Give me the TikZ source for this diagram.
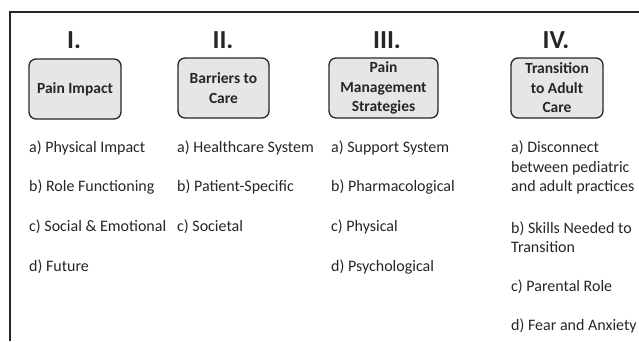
\documentclass[tikz,border=0pt]{standalone}
\usepackage{fontspec}
\setmainfont{Carlito}
\definecolor{ink}{HTML}{262626}
\definecolor{boxgray}{HTML}{E6E6E6}
\begin{document}
\begin{tikzpicture}[x=1pt,y=-1pt,text=ink]
\tikzset{
  stage/.style={draw=ink,line width=1.3pt,fill=boxgray,rounded corners=7pt,minimum height=60pt,inner sep=0pt,align=center,font=\fontsize{15.5}{19.5}\selectfont\bfseries},
  numeral/.style={font=\fontsize{26}{30}\selectfont\bfseries},
  item/.style={anchor=west,inner sep=0pt,align=left,font=\fontsize{16}{19.5}\selectfont}
}
\useasboundingbox (0,0) rectangle (639,341);
\draw[ink,line width=1.3pt] (10,341) -- (10,12) -- (639,12);
% headings
\node[numeral] (num1) at (74,40) {I.};
\node[numeral] (num2) at (223,40) {II.};
\node[numeral] (num3) at (387,40) {III.};
\node[numeral] (num4) at (556,40) {IV.};
\node[stage,minimum width=92pt] (impact) at (75,89) {Pain Impact};
\node[stage,minimum width=91pt] (barriers) at (223.5,88) {Barriers to\\Care};
\node[stage,minimum width=109pt] (strategies) at (383.5,88) {Pain\\Management\\Strategies};
\node[stage,minimum width=92pt] (transition) at (557,88) {Transition\\to Adult\\Care};
% I. pain impact
\node[item] (physimpact) at (29,148) {a) Physical Impact};
\node[item] (role) at (29,187) {b) Role Functioning};
\node[item] (social) at (29,227) {c) Social \& Emotional};
\node[item] (future) at (29,267) {d) Future};
% II. barriers
\node[item] (health) at (177,148) {a) Healthcare System};
\node[item] (patient) at (177,187) {b) Patient-Specific};
\node[item] (societal) at (177,227) {c) Societal};
% III. strategies
\node[item] (support) at (331,148) {a) Support System};
\node[item] (pharma) at (331,187) {b) Pharmacological};
\node[item] (physical) at (331,227) {c) Physical};
\node[item] (psych) at (331,267) {d) Psychological};
% IV. transition
\node[item] (disconnect) at (511,167.5) {a) Disconnect\\between pediatric\\and adult practices};
\node[item] (skills) at (511,237) {b) Skills Needed to\\Transition};
\node[item] (parental) at (511,287) {c) Parental Role};
\node[item] (fear) at (511,326) {d) Fear and Anxiety};
\end{tikzpicture}
\end{document}
